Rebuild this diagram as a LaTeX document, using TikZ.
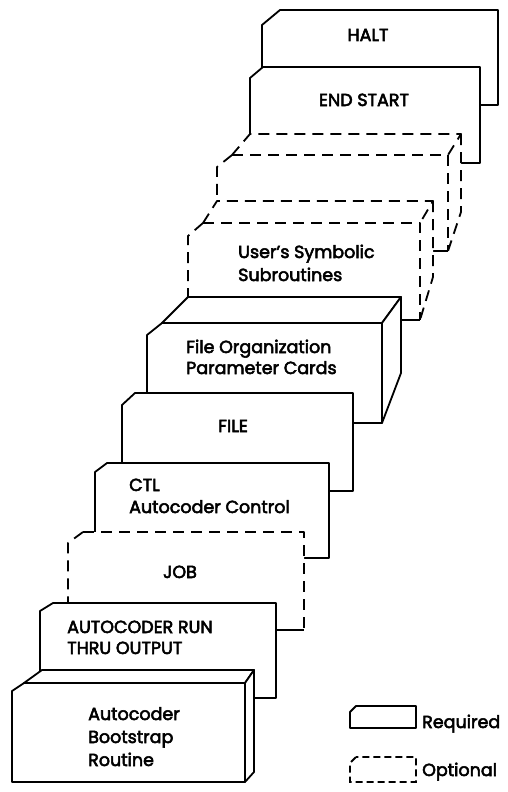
\documentclass[tikz,border=0pt]{standalone}
\usepackage{fontspec}
\setmainfont{Poppins}[FakeBold=3]
\begin{document}
\begin{tikzpicture}[x=1pt,y=-1pt,
  solidcard/.style={draw=black, line width=1.8pt, fill=white, line join=round},
  blankcard/.style={fill=white},
  dashedge/.style={draw=black, line width=1.8pt, dash pattern=on 11pt off 7pt, line join=round},
  solidedge/.style={draw=black, line width=1.8pt},
  cardtext/.style={inner sep=0pt, font=\fontsize{17.5}{22}\selectfont},
  keytext/.style={inner sep=0pt, font=\fontsize{17.5}{22}\selectfont}]

\useasboundingbox (0,0) rectangle (508,792);
\fill[white] (0,0) rectangle (508,792);

% HALT card (back of the deck)
\draw[solidcard] (262,105) -- (262,25) -- (280,10) -- (498,10) -- (498,105) -- cycle;
\node[cardtext, anchor=base] (halt) at (368,41) {HALT};

% END START card
\draw[solidcard] (250,163) -- (250,78) -- (263,67) -- (480,67) -- (480,163) -- cycle;
\node[cardtext, anchor=base] (endstart) at (364,106) {END START};

% optional deck without a label
\fill[blankcard] (217,251) -- (217,167) -- (232,155) -- (250,134) -- (461,134) -- (461,212) -- (448,251) -- cycle;
\draw[dashedge] (232,155) -- (217,167) -- (217,251);
\draw[dashedge] (232,155) -- (448,155) -- (448,251);
\draw[dashedge] (232,155) -- (250,134) -- (461,134) -- (448,155);
\draw[dashedge] (461,134) -- (461,212) -- (448,251);
\draw[solidedge] (217,251) -- (448,251);

% optional deck: user's symbolic subroutines
\fill[blankcard] (188,320) -- (188,236) -- (203,223) -- (217,201) -- (433,201) -- (433,277) -- (420,320) -- cycle;
\draw[dashedge] (203,223) -- (188,236) -- (188,320);
\draw[dashedge] (203,223) -- (420,223) -- (420,320);
\draw[dashedge] (203,223) -- (217,201) -- (433,201) -- (420,223);
\draw[dashedge] (433,201) -- (433,277) -- (420,320);
\draw[solidedge] (188,320) -- (420,320);
\node[cardtext, anchor=base west] (user1) at (238,258) {User's Symbolic};
\node[cardtext, anchor=base west] (user2) at (238,281) {Subroutines};

% file organization parameter deck
\draw[solidcard] (147,423) -- (147,335) -- (162,323) -- (382,323) -- (382,423) -- cycle;
\draw[solidcard] (162,323) -- (188,297) -- (401,297) -- (382,323) -- cycle;
\draw[solidcard] (382,323) -- (401,297) -- (401,373) -- (382,423) -- cycle;
\node[cardtext, anchor=base west] (fo1) at (186,353) {File Organization};
\node[cardtext, anchor=base west] (fo2) at (186,374) {Parameter Cards};

% FILE card
\draw[solidcard] (122,491) -- (122,405) -- (135,393) -- (353,393) -- (353,491) -- cycle;
\node[cardtext, anchor=base] (file) at (233,432) {FILE};

% CTL card
\draw[solidcard] (95,558) -- (95,472) -- (107,463) -- (329,463) -- (329,558) -- cycle;
\node[cardtext, anchor=base west] (ctl1) at (129,491) {CTL};
\node[cardtext, anchor=base west] (ctl2) at (129,513) {Autocoder Control};

% JOB card (optional)
\fill[blankcard] (68,630) -- (68,543) -- (83,532) -- (304,532) -- (304,630) -- cycle;
\draw[dashedge] (83,532) -- (68,543) -- (68,630);
\draw[dashedge] (83,532) -- (304,532) -- (304,630);
\draw[solidedge] (68,630) -- (304,630);
\node[cardtext, anchor=base] (job) at (180,578) {JOB};

% AUTOCODER RUN THRU OUTPUT card
\draw[solidcard] (40,698) -- (40,611) -- (53,603) -- (276,603) -- (276,698) -- cycle;
\node[cardtext, anchor=base west] (run1) at (67,633) {AUTOCODER RUN};
\node[cardtext, anchor=base west] (run2) at (67,654) {THRU OUTPUT};

% bootstrap deck (front of the deck)
\draw[solidcard] (12,782) -- (12,691) -- (24,683) -- (245,683) -- (245,782) -- cycle;
\draw[solidcard] (24,683) -- (42,670) -- (254,670) -- (245,683) -- cycle;
\draw[solidcard] (245,683) -- (254,670) -- (254,772) -- (245,782) -- cycle;
\node[cardtext, anchor=base west] (boot1) at (88,720) {Autocoder};
\node[cardtext, anchor=base west] (boot2) at (88,743) {Bootstrap};
\node[cardtext, anchor=base west] (boot3) at (88,766) {Routine};

% key
\draw[solidcard] (350,728) -- (350,712) -- (356,706) -- (416,706) -- (416,728) -- cycle;
\node[keytext, anchor=base west] (req) at (422,728) {Required};
\draw[line width=1.8pt, dash pattern=on 7pt off 4pt] (356,757) -- (350,763) -- (350,782) -- (416,782) -- (416,757) -- cycle;
\node[keytext, anchor=base west] (opt) at (422,776) {Optional};

\end{tikzpicture}
\end{document}
